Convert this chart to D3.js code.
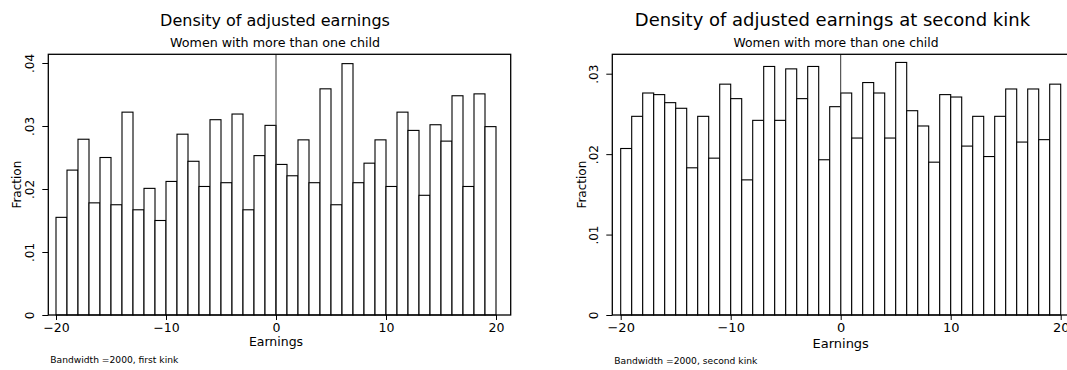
<!DOCTYPE html>
<html>
<head>
<meta charset="utf-8">
<script src="https://cdn.jsdelivr.net/npm/d3@7/dist/d3.min.js"></script>
<style>
  html, body { margin: 0; padding: 0; background: #fff; }
  svg { display: block; }
  text { font-family: "DejaVu Sans", sans-serif; fill: #000; }
</style>
</head>
<body>
<svg id="chart" width="1067" height="370"></svg>
<script>
// Bin lower edges (earnings relative to the kink, bins one unit wide)
const binStarts = [-20,-19,-18,-17,-16,-15,-14,-13,-12,-11,-10,-9,-8,-7,-6,-5,-4,-3,-2,-1,
                   0,1,2,3,4,5,6,7,8,9,10,11,12,13,14,15,16,17,18,19];

// Fraction of observations per bin, first kink
const firstKink = [0.0155,0.0230,0.0279,0.0178,0.0250,0.0175,0.0322,0.0167,0.0201,0.0150,
                   0.0212,0.0287,0.0244,0.0204,0.0310,0.0210,0.0319,0.0167,0.0253,0.0301,
                   0.0239,0.0221,0.0278,0.0210,0.0359,0.0175,0.0399,0.0210,0.0241,0.0278,
                   0.0204,0.0322,0.0293,0.0190,0.0302,0.0276,0.0348,0.0204,0.0351,0.0299];

// Fraction of observations per bin, second kink
const secondKink = [0.0207,0.0247,0.0276,0.0274,0.0264,0.0257,0.0183,0.0247,0.0195,0.0287,
                    0.0269,0.0168,0.0242,0.0309,0.0242,0.0306,0.0269,0.0309,0.0193,0.0259,
                    0.0276,0.0220,0.0289,0.0276,0.0220,0.0314,0.0254,0.0235,0.0190,0.0274,
                    0.0271,0.0210,0.0247,0.0197,0.0247,0.0281,0.0215,0.0281,0.0218,0.0287];

const xTicks = [-20, -10, 0, 10, 20];
const yTicksFirst = [0, 0.01, 0.02, 0.03, 0.04];
const yTicksSecond = [0, 0.01, 0.02, 0.03];

const titles = ["Density of adjusted earnings", "Density of adjusted earnings at second kink"];
const subtitle = "Women with more than one child";
const notes = ["Bandwidth =2000, first kink", "Bandwidth =2000, second kink"];

const svg = d3.select("#chart");

const fmtY = v => v === 0 ? "0" : d3.format(".2f")(v).replace(/^0/, "");
const fmtX = v => (v < 0 ? "\u2212" + Math.abs(v) : String(v));

function panel(cfg) {
  const g = svg.append("g");
  const x = d3.scaleLinear().domain([-20, 20]).range([cfg.x0, cfg.x1]);
  const y = d3.scaleLinear().domain([0, cfg.yMax]).range([cfg.base, cfg.yTop]);

  // bars
  g.append("g").selectAll("rect")
    .data(cfg.values)
    .join("rect")
    .attr("x", (d, i) => x(binStarts[i]))
    .attr("width", (d, i) => x(binStarts[i] + 1) - x(binStarts[i]))
    .attr("y", d => y(d))
    .attr("height", d => y(0) - y(d))
    .attr("fill", "#fff")
    .attr("stroke", "#000")
    .attr("stroke-width", 1.1);

  // kink marker
  g.append("line")
    .attr("x1", x(0)).attr("x2", x(0))
    .attr("y1", cfg.frameTop).attr("y2", y(0))
    .attr("stroke", "#333").attr("stroke-width", 1);

  // plot frame
  g.append("rect")
    .attr("x", cfg.frameL).attr("y", cfg.frameTop)
    .attr("width", cfg.frameR - cfg.frameL).attr("height", y(0) - cfg.frameTop)
    .attr("fill", "none").attr("stroke", "#000").attr("stroke-width", 1.3);

  // y axis
  const yAxis = d3.axisLeft(y).tickValues(cfg.yTicks).tickFormat(fmtY).tickSize(6).tickPadding(0);
  const ya = g.append("g").attr("transform", `translate(${cfg.frameL},0)`).call(yAxis);
  ya.select(".domain").remove();
  ya.selectAll(".tick line").attr("stroke", "#000");
  ya.selectAll(".tick text")
    .attr("x", null).attr("dy", null)
    .attr("transform", `translate(${cfg.yLabX},0) rotate(-90)`)
    .attr("text-anchor", "middle")
    .style("font-family", "DejaVu Sans, sans-serif")
    .style("font-size", "12px").attr("fill", "#000");

  // x axis
  const xAxis = d3.axisBottom(x).tickValues(xTicks).tickFormat(fmtX).tickSize(5).tickPadding(0);
  const xa = g.append("g").attr("transform", `translate(0,${cfg.base})`).call(xAxis);
  xa.select(".domain").remove();
  xa.selectAll(".tick line").attr("stroke", "#000");
  xa.selectAll(".tick text")
    .attr("y", cfg.xLabBase - cfg.base).attr("dy", null)
    .style("font-family", "DejaVu Sans, sans-serif")
    .style("font-size", cfg.tickFont + "px").attr("fill", "#000");

  // axis titles
  g.append("text")
    .attr("x", x(0)).attr("y", cfg.xTitleBase)
    .attr("text-anchor", "middle")
    .style("font-size", cfg.tickFont + "px")
    .text("Earnings");
  g.append("text")
    .attr("transform", `translate(${cfg.yTitleX},${(cfg.frameTop + cfg.base) / 2}) rotate(-90)`)
    .attr("text-anchor", "middle")
    .style("font-size", "12px")
    .text("Fraction");

  // titles
  g.append("text")
    .attr("x", cfg.titleX).attr("y", 26)
    .attr("text-anchor", "middle")
    .style("font-size", cfg.titleFont + "px")
    .text(cfg.title);
  g.append("text")
    .attr("x", cfg.subX).attr("y", 46.5)
    .attr("text-anchor", "middle")
    .attr("textLength", cfg.subLen).attr("lengthAdjust", "spacingAndGlyphs")
    .style("font-size", "12px")
    .text(subtitle);

  // note
  g.append("text")
    .attr("x", cfg.frameL + 2).attr("y", cfg.noteBase)
    .attr("textLength", cfg.noteLen).attr("lengthAdjust", "spacingAndGlyphs")
    .style("font-size", "9px")
    .text(cfg.note);
}

panel({
  values: firstKink, yMax: 0.04, yTicks: yTicksFirst,
  x0: 56, x1: 496, base: 315, yTop: 63, frameTop: 54.3, frameL: 48.3, frameR: 510.7,
  yLabX: -14, yTitleX: 21, xLabBase: 332, xTitleBase: 346, tickFont: 12.5,
  title: titles[0], titleX: 275, titleFont: 16, subX: 275, subLen: 210,
  note: notes[0], noteBase: 363, noteLen: 128
});

panel({
  values: secondKink, yMax: 0.03, yTicks: yTicksSecond,
  x0: 620.7, x1: 1060.7, base: 315, yTop: 73.7, frameTop: 54.3, frameL: 612.3, frameR: 1075,
  yLabX: -14, yTitleX: 586, xLabBase: 332, xTitleBase: 347.5, tickFont: 13,
  title: titles[1], titleX: 832.5, titleFont: 18, subX: 836, subLen: 205,
  note: notes[1], noteBase: 364, noteLen: 143
});
</script>
</body>
</html>
